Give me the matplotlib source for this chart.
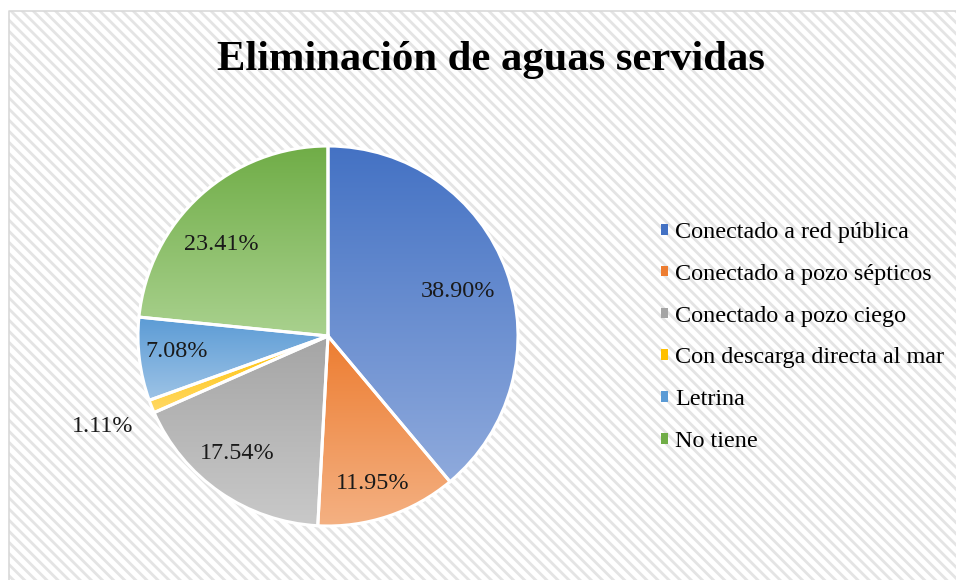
import matplotlib
matplotlib.use("Agg")
import matplotlib.pyplot as plt
import numpy as np
from matplotlib.colors import LinearSegmentedColormap
from matplotlib.lines import Line2D
from matplotlib.patches import Patch, Rectangle

categories = [
    "Conectado a red pública",
    "Conectado a pozo sépticos",
    "Conectado a pozo ciego",
    "Con descarga directa al mar",
    "Letrina",
    "No tiene",
]
shares = [38.90, 11.95, 17.54, 1.11, 7.08, 23.41]
title = "Eliminación de aguas servidas"

# top (dark) -> bottom (light) gradient per slice
dark_colors = ["#4472C4", "#ED7D31", "#A5A5A5", "#FFC000", "#5B9BD5", "#70AD47"]
light_colors = ["#8FAADC", "#F4B183", "#C9C9C9", "#FFD966", "#9DC3E6", "#A9D18E"]

# label placement (radius as fraction of pie radius, angular nudge in degrees)
label_dist = [0.72, 0.81, 0.78, 1.28, 0.80, 0.74]
label_nudge = [-1.2, -1.5, -3.0, 0.0, -1.0, 7.0]

plt.rcParams["font.family"] = ["Liberation Serif", "DejaVu Serif"]
plt.rcParams["hatch.linewidth"] = 2.0
plt.rcParams["hatch.color"] = "#e4e4e4"

W, H = 956, 580
fig = plt.figure(figsize=(W / 100, H / 100), dpi=100)
fig.patch.set_facecolor("white")

# striped chart area background + left/top border
x0, y0 = 9 / W, 1 - 11 / H
bg = Rectangle((x0, -0.02), 1.05 - x0, y0 + 0.02, transform=fig.transFigure,
               facecolor="white", edgecolor="#e4e4e4", linewidth=0,
               hatch="\\" * 3, zorder=-10)
fig.patches.append(bg)
fig.lines.append(Line2D([x0, x0, 1.0], [0, y0, y0], transform=fig.transFigure,
                        color="#d9d9d9", linewidth=1.2, zorder=-9))

fig.text(491 / W, 1 - 70 / H, title, ha="center", va="baseline",
         fontsize=30.7, fontweight="bold")

cx, cy, r = 328, 336, 190
ax = fig.add_axes([(cx - r) / W, (H - cy - r) / H, 2 * r / W, 2 * r / H])
ax.set_axis_off()

wedges, _, pct_texts = ax.pie(
    shares,
    startangle=90,
    counterclock=False,
    radius=1,
    autopct="%.2f%%",
    pctdistance=0.77,
    wedgeprops=dict(facecolor="none", edgecolor="white", linewidth=2.2),
    textprops=dict(fontsize=17.4, color="#1a1a1a"),
)

for i, w in enumerate(wedges):
    verts = w.get_patch_transform().transform(w.get_path().vertices)
    ymin, ymax = verts[:, 1].min(), verts[:, 1].max()
    cmap = LinearSegmentedColormap.from_list(f"g{i}", [light_colors[i], dark_colors[i]])
    grad = np.linspace(0, 1, 256).reshape(-1, 1)
    im = ax.imshow(grad, cmap=cmap, origin="lower", aspect="auto",
                   extent=[-1.05, 1.05, ymin, ymax], zorder=0.5)
    im.set_clip_path(w)
    w.set_zorder(1)

    mid = np.deg2rad((w.theta1 + w.theta2) / 2 + label_nudge[i])
    pct_texts[i].set_position((label_dist[i] * np.cos(mid), label_dist[i] * np.sin(mid)))

ax.set_xlim(-1, 1)
ax.set_ylim(-1, 1)

handles = [Patch(facecolor=c, edgecolor="none") for c in dark_colors]
fig.legend(handles, categories, loc="center left",
           bbox_to_anchor=(639 / W, 1 - 337 / H), frameon=False,
           fontsize=17.4, handlelength=0.3, handleheight=0.3,
           handletextpad=0.3, labelspacing=0.86)

fig.savefig("out.png", dpi=100)
